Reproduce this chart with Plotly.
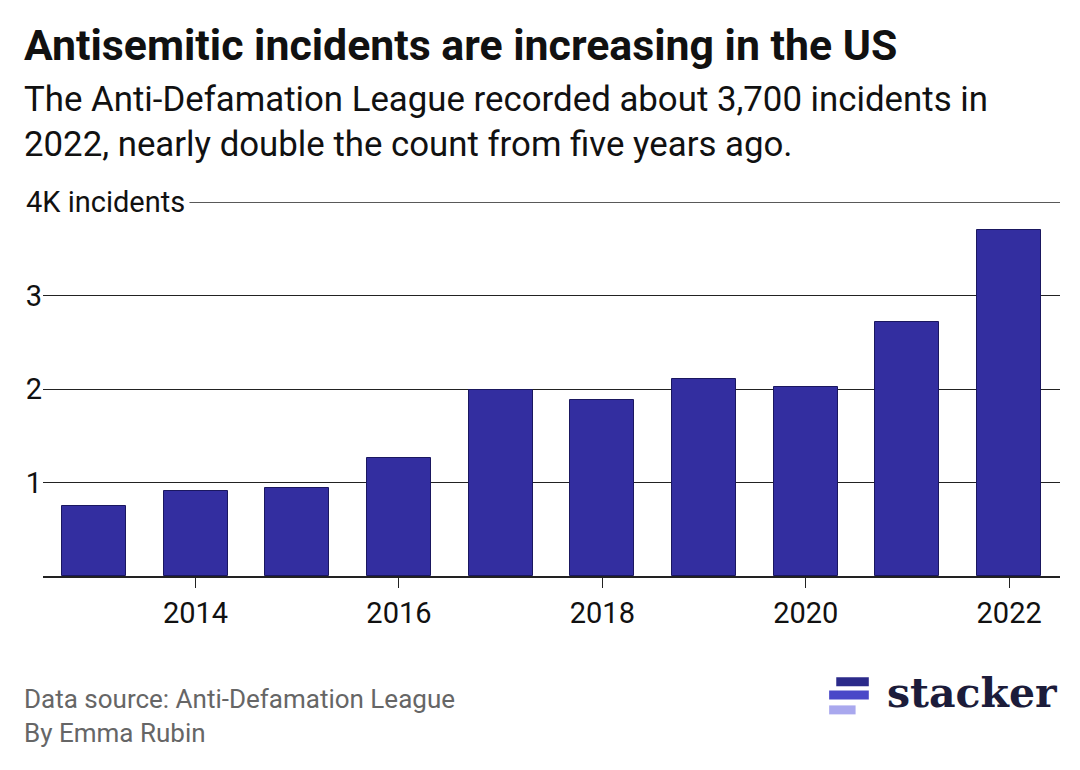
import plotly.graph_objects as go

years = [2013, 2014, 2015, 2016, 2017, 2018, 2019, 2020, 2021, 2022]
incidents = [751, 912, 942, 1267, 1986, 1879, 2107, 2024, 2717, 3697]
tick_years = [2014, 2016, 2018, 2020, 2022]
y_ticks = [1000, 2000, 3000]
y_labels = ["1", "2", "3"]

fig = go.Figure()
fig.add_trace(go.Bar(
    x=years, y=incidents, width=0.63,
    marker=dict(color="#332ea0", line=dict(color="#1a1760", width=1)),
    hoverinfo="x+y",
))

fig.update_layout(
    width=1064, height=754,
    paper_bgcolor="white", plot_bgcolor="white",
    margin=dict(l=35, r=12, t=194, b=186),
    font=dict(family="Roboto", color="#111"),
    showlegend=False,
    bargap=0,
    xaxis=dict(
        tickvals=tick_years, ticks="outside", ticklen=10, tickcolor="#222",
        tickfont=dict(size=29, color="#111"), showgrid=False,
        showline=True, linecolor="#222", linewidth=1.5,
        range=[2012.5, 2022.5],
    ),
    yaxis=dict(
        range=[0, 4000], tickvals=y_ticks, ticktext=y_labels,
        tickfont=dict(size=29, color="#111"), showgrid=True,
        gridcolor="#222", gridwidth=1.4, zeroline=False, ticks="",
    ),
)

# top gridline with unit label
fig.add_shape(type="line", xref="paper", yref="y", x0=0.144, x1=1,
              y0=4000, y1=4000, line=dict(color="#222", width=1.4))
fig.add_annotation(text="4K incidents", xref="paper", yref="y", x=0.1415, y=4000,
                   xanchor="right", yanchor="middle", showarrow=False,
                   font=dict(size=29, color="#111"))

fig.add_annotation(text="<b>Antisemitic incidents are increasing in the US</b>",
                   xref="paper", yref="paper", x=-0.021, y=1.42, xanchor="left",
                   yanchor="middle", showarrow=False, font=dict(size=42.8, color="#111"))
fig.add_annotation(text="The Anti-Defamation League recorded about 3,700 incidents in<br>2022, nearly double the count from five years ago.",
                   xref="paper", yref="paper", x=-0.021, y=1.214, xanchor="left",
                   yanchor="middle", align="left", showarrow=False,
                   font=dict(size=34.8, color="#111"))
fig.add_annotation(text="Data source: Anti-Defamation League<br>By Emma Rubin",
                   xref="paper", yref="paper", x=-0.021, y=-0.374, xanchor="left",
                   yanchor="middle", align="left", showarrow=False,
                   font=dict(size=26, color="#666"))

# stacker logo
fig.add_annotation(text="<b>stacker</b>", xref="paper", yref="paper", x=1.0, y=-0.313,
                   xanchor="right", yanchor="middle", showarrow=False,
                   font=dict(size=41, family="DejaVu Serif", color="#1c1c3a"))
for c, x0, x1, y in [("#2b2a8a", 0.780, 0.812, -0.283),
                     ("#4a48c8", 0.773, 0.812, -0.318),
                     ("#a9a8ee", 0.773, 0.799, -0.358)]:
    fig.add_shape(type="rect", xref="paper", yref="paper", x0=x0, x1=x1,
                  y0=y - 0.012, y1=y + 0.012, fillcolor=c, line=dict(width=0))

fig.write_html("out.html")
